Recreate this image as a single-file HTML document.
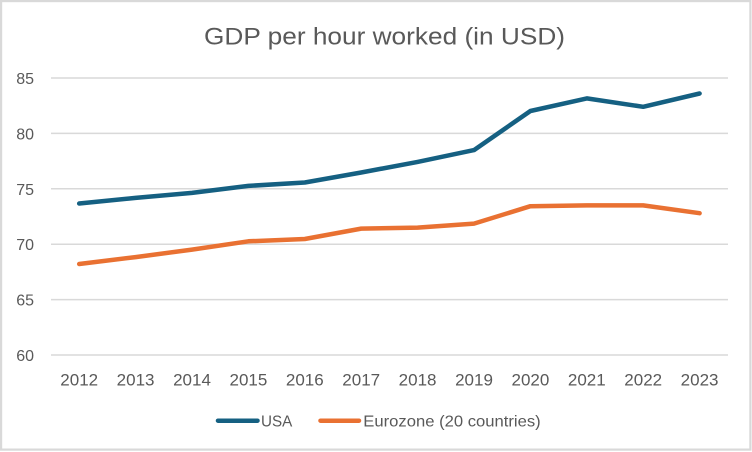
<!DOCTYPE html>
<html><head><meta charset="utf-8"><style>
html,body{margin:0;padding:0;background:#fff;}
svg{display:block;}
text{font-family:"Liberation Sans",sans-serif;fill:#595959;}
</style></head><body>
<svg width="752" height="452" viewBox="0 0 752 452" xmlns="http://www.w3.org/2000/svg">
<rect x="0" y="0" width="752" height="452" fill="#fff"/>
<rect x="1.1" y="1.1" width="749.3" height="448.5" fill="none" stroke="#d9d9d9" stroke-width="2.2"/>
<text x="204" y="44.3" font-size="24.5" textLength="361" lengthAdjust="spacingAndGlyphs">GDP per hour worked (in USD)</text>
<g stroke="#d9d9d9" stroke-width="1.5">
<line x1="51" y1="78" x2="728" y2="78"/>
<line x1="51" y1="133.4" x2="728" y2="133.4"/>
<line x1="51" y1="188.8" x2="728" y2="188.8"/>
<line x1="51" y1="244.2" x2="728" y2="244.2"/>
<line x1="51" y1="299.6" x2="728" y2="299.6"/>
<line x1="51" y1="355" x2="728" y2="355"/>
</g>
<g font-size="16" text-anchor="end">
<text x="34" y="84">85</text>
<text x="34" y="139.4">80</text>
<text x="34" y="194.8">75</text>
<text x="34" y="250.2">70</text>
<text x="34" y="305.6">65</text>
<text x="34" y="361">60</text>
</g>
<g font-size="17" text-anchor="middle">
<text x="79.2" y="385.3">2012</text>
<text x="135.6" y="385.3">2013</text>
<text x="192" y="385.3">2014</text>
<text x="248.4" y="385.3">2015</text>
<text x="304.8" y="385.3">2016</text>
<text x="361.2" y="385.3">2017</text>
<text x="417.6" y="385.3">2018</text>
<text x="474" y="385.3">2019</text>
<text x="530.4" y="385.3">2020</text>
<text x="586.8" y="385.3">2021</text>
<text x="643.2" y="385.3">2022</text>
<text x="699.6" y="385.3">2023</text>
</g>
<polyline fill="none" stroke="#156082" stroke-width="4.5" stroke-linecap="round" stroke-linejoin="round"
points="79.2,203.5 135.6,197.9 192,192.9 248.4,185.9 304.8,182.5 361.2,172.5 417.6,161.9 474,150.1 530.4,111 586.8,98.4 643.2,106.8 699.6,93.5"/>
<polyline fill="none" stroke="#E97132" stroke-width="4.5" stroke-linecap="round" stroke-linejoin="round"
points="79.2,264 135.6,257.1 192,249.6 248.4,241.3 304.8,239 361.2,228.6 417.6,227.6 474,223.6 530.4,206.2 586.8,205.4 643.2,205.4 699.6,213.2"/>
<line x1="218" y1="420.7" x2="257.5" y2="420.7" stroke="#156082" stroke-width="4.5" stroke-linecap="round"/>
<text x="261" y="426.7" font-size="16" textLength="31.3" lengthAdjust="spacingAndGlyphs">USA</text>
<line x1="320.5" y1="420.7" x2="359" y2="420.7" stroke="#E97132" stroke-width="4.5" stroke-linecap="round"/>
<text x="363.3" y="426.7" font-size="16" textLength="177.4" lengthAdjust="spacingAndGlyphs">Eurozone (20 countries)</text>
</svg>
</body></html>
